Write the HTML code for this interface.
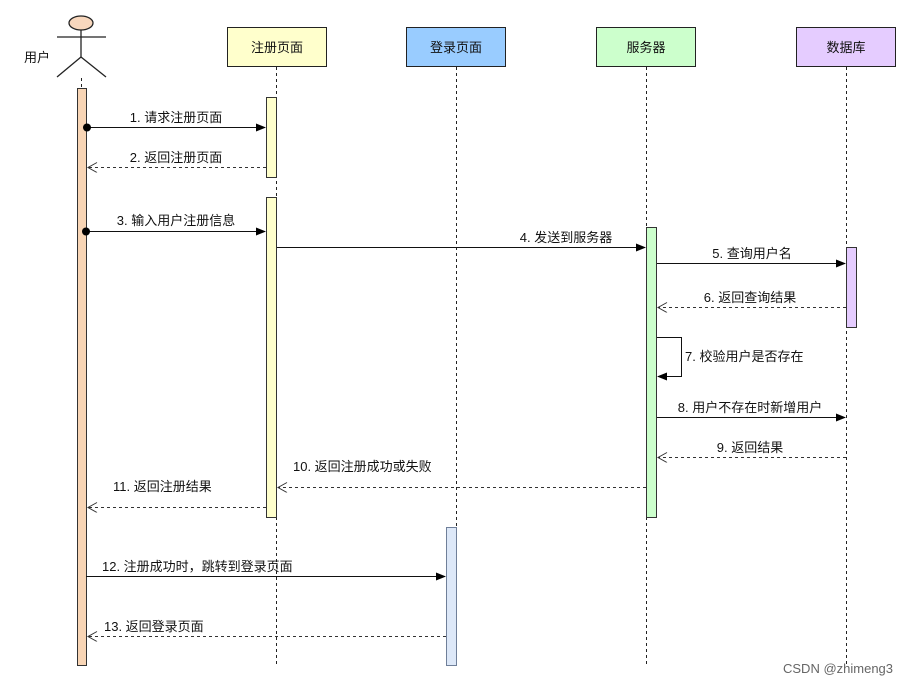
<!DOCTYPE html>
<html><head><meta charset="utf-8"><style>
html,body{margin:0;padding:0;background:#fff;}
svg{display:block;}
text{font-family:"Liberation Sans","Noto Sans CJK SC",sans-serif;font-size:13px;fill:#111;}
</style></head><body>
<svg width="909" height="686" viewBox="0 0 909 686" xmlns="http://www.w3.org/2000/svg">
<defs>
<marker id="fa" markerWidth="10" markerHeight="10" refX="9" refY="4" orient="auto" markerUnits="userSpaceOnUse"><path d="M0,0 L10,4 L0,8 z" fill="#000"/></marker>
<marker id="oa" markerWidth="12" markerHeight="12" refX="10" refY="5" orient="auto" markerUnits="userSpaceOnUse"><path d="M1,0 L10,5 L1,10" fill="none" stroke="#333" stroke-width="1"/></marker>
</defs>
<g stroke="#222" stroke-width="1" stroke-dasharray="3,3" fill="none">
<line x1="81.5" y1="78" x2="81.5" y2="88"/>
<line x1="276.5" y1="67" x2="276.5" y2="666"/>
<line x1="456.5" y1="67" x2="456.5" y2="666"/>
<line x1="646.5" y1="67" x2="646.5" y2="666"/>
<line x1="846.5" y1="67" x2="846.5" y2="666"/>
</g>
<g stroke="#222" stroke-width="1.3" fill="none">
<ellipse cx="81" cy="23" rx="12" ry="7" fill="#f8d7bd"/>
<line x1="81" y1="30" x2="81" y2="57"/>
<line x1="57" y1="37" x2="106" y2="37"/>
<line x1="81" y1="57" x2="57" y2="77"/>
<line x1="81" y1="57" x2="106" y2="77"/>
</g>
<text x="24" y="62">用户</text>
<g stroke="#222" stroke-width="1">
<rect x="227.5" y="27.5" width="99" height="39" fill="#ffffcc"/>
<rect x="406.5" y="27.5" width="99" height="39" fill="#99ccff"/>
<rect x="596.5" y="27.5" width="99" height="39" fill="#ccffcc"/>
<rect x="796.5" y="27.5" width="99" height="39" fill="#e5ccff"/>
</g>
<text x="277" y="52" text-anchor="middle" font-size="14">注册页面</text>
<text x="456" y="52" text-anchor="middle" font-size="14">登录页面</text>
<text x="646" y="52" text-anchor="middle" font-size="14">服务器</text>
<text x="846" y="52" text-anchor="middle" font-size="14">数据库</text>
<g stroke="#333" stroke-width="1">
<rect x="77.5" y="88.5" width="9" height="577" fill="#f8d5b5"/>
<rect x="266.5" y="97.5" width="10" height="80" fill="#ffffcc"/>
<rect x="266.5" y="197.5" width="10" height="320" fill="#ffffcc"/>
<rect x="646.5" y="227.5" width="10" height="290" fill="#ccffcc"/>
<rect x="846.5" y="247.5" width="10" height="80" fill="#e5ccff"/>
<rect x="446.5" y="527.5" width="10" height="138" fill="#dde8f8" stroke="#6f7f99"/>
</g>
<g stroke="#111" stroke-width="1" fill="none">
<line x1="86" y1="127.5" x2="265" y2="127.5" marker-end="url(#fa)"/>
<line x1="86" y1="231.5" x2="265" y2="231.5" marker-end="url(#fa)"/>
<line x1="277" y1="247.5" x2="645" y2="247.5" marker-end="url(#fa)"/>
<line x1="657" y1="263.5" x2="845" y2="263.5" marker-end="url(#fa)"/>
<polyline points="657,337.5 681.5,337.5 681.5,376.5 658,376.5" marker-end="url(#fa)"/>
<line x1="657" y1="417.5" x2="845" y2="417.5" marker-end="url(#fa)"/>
<line x1="86" y1="576.5" x2="445" y2="576.5" marker-end="url(#fa)"/>
</g>
<circle cx="87" cy="127.5" r="4" fill="#000"/>
<circle cx="86" cy="231.5" r="4" fill="#000"/>
<g stroke="#333" stroke-width="1" fill="none" stroke-dasharray="3,3">
<line x1="266" y1="167.5" x2="88" y2="167.5" marker-end="url(#oa)"/>
<line x1="846" y1="307.5" x2="658" y2="307.5" marker-end="url(#oa)"/>
<line x1="846" y1="457.5" x2="658" y2="457.5" marker-end="url(#oa)"/>
<line x1="646" y1="487.5" x2="278" y2="487.5" marker-end="url(#oa)"/>
<line x1="266" y1="507.5" x2="88" y2="507.5" marker-end="url(#oa)"/>
<line x1="446" y1="636.5" x2="88" y2="636.5" marker-end="url(#oa)"/>
</g>
<text x="176" y="122" text-anchor="middle">1. 请求注册页面</text>
<text x="176" y="162" text-anchor="middle">2. 返回注册页面</text>
<text x="176" y="225" text-anchor="middle">3. 输入用户注册信息</text>
<text x="566" y="242" text-anchor="middle">4. 发送到服务器</text>
<text x="752" y="258" text-anchor="middle">5. 查询用户名</text>
<text x="750" y="302" text-anchor="middle">6. 返回查询结果</text>
<text x="685" y="361">7. 校验用户是否存在</text>
<text x="750" y="412" text-anchor="middle">8. 用户不存在时新增用户</text>
<text x="750" y="452" text-anchor="middle">9. 返回结果</text>
<text x="293" y="471">10. 返回注册成功或失败</text>
<text x="113" y="491">11. 返回注册结果</text>
<text x="102" y="571">12. 注册成功时，跳转到登录页面</text>
<text x="104" y="631">13. 返回登录页面</text>
<text x="783" y="673" font-size="12" style="fill:#666">CSDN @zhimeng3</text>
</svg>
</body></html>
